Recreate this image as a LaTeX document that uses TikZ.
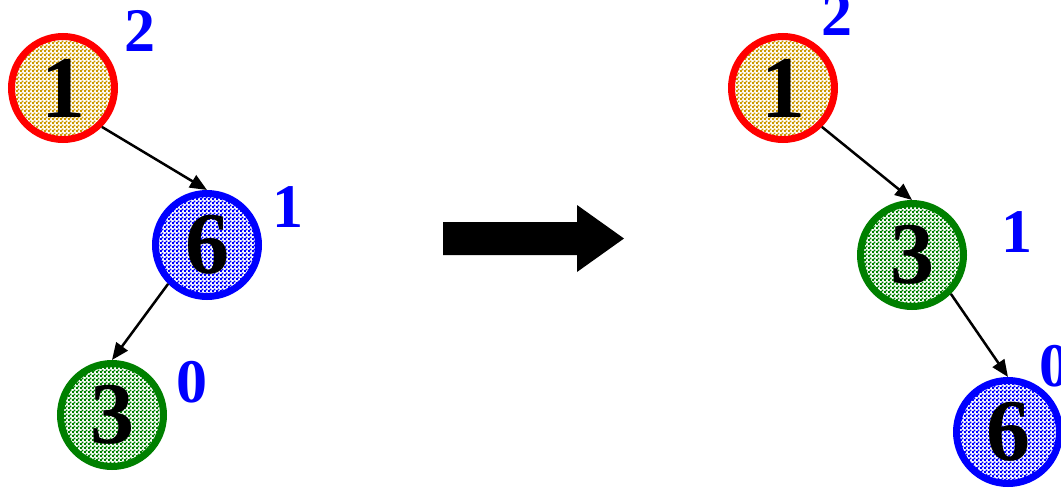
\documentclass[tikz,border=0pt]{standalone}
\usepackage{fontspec}
\setmainfont{Liberation Serif}
\usetikzlibrary{arrows.meta, patterns}

\definecolor{gold}{RGB}{204,153,0}
\definecolor{leafgreen}{RGB}{0,128,0}

\pgfdeclarepatternformonly{finechecker}{\pgfqpoint{0pt}{0pt}}{\pgfqpoint{4pt}{4pt}}{\pgfqpoint{4pt}{4pt}}{
  \pgfpathrectangle{\pgfqpoint{0pt}{0pt}}{\pgfqpoint{2.2pt}{2.2pt}}
  \pgfpathrectangle{\pgfqpoint{2pt}{2pt}}{\pgfqpoint{2.2pt}{2.2pt}}
  \pgfusepath{fill}
}

\begin{document}
\begin{tikzpicture}[x=1pt, y=-1pt,
  vertex/.style={circle, line width=7pt, minimum size=103pt, inner sep=0pt,
    pattern=finechecker, font=\bfseries\fontsize{88}{88}\selectfont},
  hlabel/.style={text=blue, inner sep=0pt, font=\bfseries\fontsize{62}{62}\selectfont},
  conn/.style={-{Triangle[length=17pt, width=14pt]}, line width=2.5pt}]
\useasboundingbox (0,0) rectangle (1061,488);

% tree before the rotation
\foreach \name/\x/\y/\num/\col/\fil in {l1/63/88/1/red/gold, l6/207/245/6/blue/blue, l3/112/415/3/leafgreen/leafgreen} {
  \node[vertex, draw=\col, pattern color=\fil] (\name) at (\x,\y) {\num};
}
\foreach \name/\x/\y/\h in {hl1/140/31/2, hl6/288/207/1, hl3/192/382/0} {
  \node[hlabel] (\name) at (\x,\y) {\h};
}
\draw[conn] (l1.south east) -- (l6.north);
\draw[conn] (l6.south west) -- (l3.north);

% big arrow
\fill (443,222) -- (577,222) -- (577,205) -- (624,238.5) -- (577,272) -- (577,255) -- (443,255) -- cycle;

% tree after the rotation
\foreach \name/\x/\y/\num/\col/\fil in {r1/783/88/1/red/gold, r3/912/255/3/leafgreen/leafgreen, r6/1008/432/6/blue/blue} {
  \node[vertex, draw=\col, pattern color=\fil] (\name) at (\x,\y) {\num};
}
\foreach \name/\x/\y/\h in {hr1/837/15/2, hr3/1017/232/1, hr6/1055/366/0} {
  \node[hlabel] (\name) at (\x,\y) {\h};
}
\draw[conn] (r1.south east) -- (r3.north);
\draw[conn] (r3.south east) -- (r6.north);
\end{tikzpicture}
\end{document}
